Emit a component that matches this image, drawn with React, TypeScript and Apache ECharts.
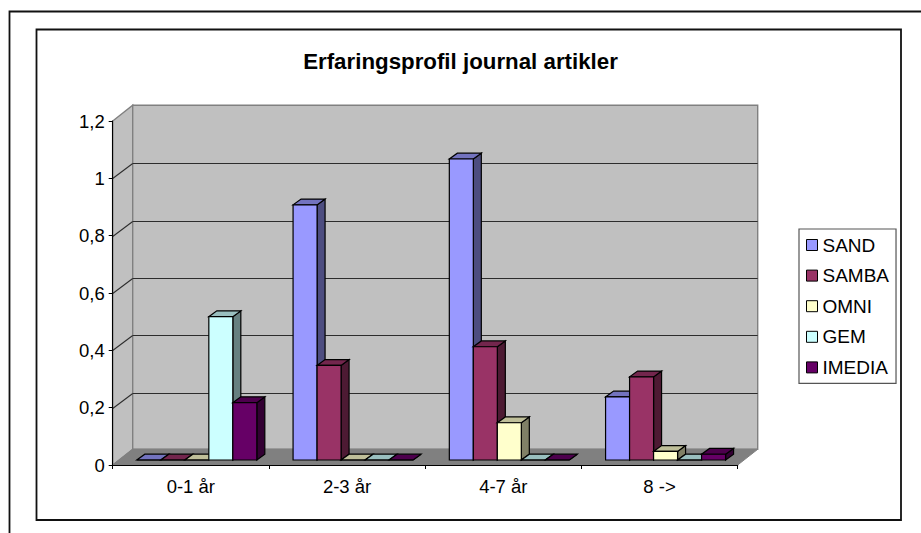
import React, { useEffect, useRef } from "react";
import * as echarts from "echarts";

const categories = ["0-1 år", "2-3 år", "4-7 år", "8 ->"];
const SAND = [0, 0.89, 1.05, 0.22];
const SAMBA = [0, 0.33, 0.395, 0.29];
const OMNI = [0, 0, 0.13, 0.03];
const GEM = [0.5, 0, 0, 0];
const IMEDIA = [0.2, 0, 0, 0.02];
const yTicks = [0, 0.2, 0.4, 0.6, 0.8, 1, 1.2];
const seriesNames = ["SAND", "SAMBA", "OMNI", "GEM", "IMEDIA"];
const seriesValues = [SAND, SAMBA, OMNI, GEM, IMEDIA];
const frontColors = ["#9999FF", "#993366", "#FFFFCC", "#CCFFFF", "#660066"];
const topColors = ["#7373BF", "#73264D", "#BFBF99", "#99BFBF", "#4D004D"];
const sideColors = ["#4D4D80", "#4D1A33", "#808066", "#668080", "#330033"];

const WALL_DX = 20;
const WALL_DY = 15.7;
const BASE_DX = 6;
const BASE_DY = 5;
const BAR_W = 24;
const BAR_DX = 8;
const BAR_DY = 5.8;
const FONT = "'Liberation Sans', Arial, sans-serif";
const EDGE = "#808080";

function wallItem(params: any) {
  const { x, y, width, height } = params.coordSys;
  const b = y + height;
  const r = x + width;
  const s = { stroke: EDGE, lineWidth: 1.4 };
  return {
    type: "group",
    children: [
      { type: "polygon", shape: { points: [[x, b], [x + WALL_DX, b - WALL_DY], [x + WALL_DX, y - WALL_DY], [x, y]] }, style: { fill: "#C0C0C0", ...s } },
      { type: "rect", shape: { x: x + WALL_DX, y: y - WALL_DY, width, height }, style: { fill: "#C0C0C0", ...s } },
      { type: "polygon", shape: { points: [[x, b], [r, b], [r + WALL_DX, b - WALL_DY], [x + WALL_DX, b - WALL_DY]] }, style: { fill: "#808080", stroke: EDGE, lineWidth: 1 } },
    ],
  };
}

function gridItem(params: any, api: any) {
  const v = api.value(1);
  if (v === 0 || v === 1.2) return { type: "group", children: [] };
  const y = Math.round(api.coord([0, v])[1]) + 0.5;
  const { x, width } = params.coordSys;
  const by = Math.round(y - WALL_DY) + 0.5;
  const s = { stroke: "#2c2c2c", lineWidth: 1.1 };
  return {
    type: "group",
    children: [
      { type: "line", shape: { x1: x, y1: y, x2: x + WALL_DX, y2: by }, style: s },
      { type: "line", shape: { x1: x + WALL_DX, y1: by, x2: x + WALL_DX + width, y2: by }, style: s },
    ],
  };
}

function barItem(sIdx: number) {
  return (params: any, api: any) => {
    const cat = api.value(0);
    const val = api.value(1);
    const base = api.coord([cat, 0]);
    const top = api.coord([cat, val]);
    const x0 = base[0] + BASE_DX - (BAR_W * seriesNames.length) / 2 + sIdx * BAR_W;
    const x1 = x0 + BAR_W;
    const yb = base[1] - BASE_DY;
    const yt = top[1] - BASE_DY;
    const s = { stroke: "#000", lineWidth: 1.2 };
    return {
      type: "group",
      children: [
        { type: "polygon", shape: { points: [[x1, yb], [x1 + BAR_DX, yb - BAR_DY], [x1 + BAR_DX, yt - BAR_DY], [x1, yt]] }, style: { fill: sideColors[sIdx], ...s } },
        { type: "polygon", shape: { points: [[x0, yt], [x1, yt], [x1 + BAR_DX, yt - BAR_DY], [x0 + BAR_DX, yt - BAR_DY]] }, style: { fill: topColors[sIdx], ...s } },
        { type: "rect", shape: { x: x0, y: yt, width: BAR_W, height: yb - yt }, style: { fill: frontColors[sIdx], ...s } },
      ],
    };
  };
}

export default function App() {
  const ref = useRef<HTMLDivElement>(null);
  useEffect(() => {
    document.body.style.margin = "0";
    const chart = echarts.init(ref.current!, undefined, { renderer: "svg" });
    chart.setOption({
      animation: false,
      backgroundColor: "#fff",
      title: {
        text: "Erfaringsprofil journal artikler",
        left: "center",
        top: 45,
        textStyle: { fontFamily: FONT, fontSize: 22.3, fontWeight: "bold", color: "#000" },
      },
      legend: {
        orient: "vertical",
        left: 799,
        top: 229,
        data: seriesNames,
        icon: "rect",
        itemWidth: 11,
        itemHeight: 11,
        itemGap: 9.6,
        itemStyle: { borderColor: "#000", borderWidth: 1 },
        padding: [5.5, 7, 5.5, 7],
        borderColor: "#555",
        borderWidth: 1.2,
        backgroundColor: "#fff",
        textStyle: { fontFamily: FONT, fontSize: 19, color: "#000", padding: [0, 0, 0, 0], lineHeight: 21 },
        selectedMode: false,
      },
      grid: { left: 112.7, top: 121, width: 625, height: 344 },
      xAxis: {
        type: "category",
        data: categories,
        z: 5,
        axisLine: { lineStyle: { color: "#000", width: 1.1 } },
        axisTick: { show: true, alignWithLabel: false, length: 4, lineStyle: { color: "#000" } },
        axisLabel: { fontFamily: FONT, fontSize: 18.5, color: "#000", margin: 12 },
      },
      yAxis: {
        type: "value",
        min: 0,
        max: 1.2,
        interval: 0.2,
        z: 5,
        splitLine: { show: false },
        axisLine: { show: true, lineStyle: { color: "#000", width: 1.1 } },
        axisTick: { show: true, length: 4, lineStyle: { color: "#000" } },
        axisLabel: {
          fontFamily: FONT,
          fontSize: 18.5,
          color: "#000",
          margin: 8,
          formatter: (v: number) => String(v).replace(".", ","),
        },
      },
      graphic: [
        { type: "rect", silent: true, z: -1, shape: { x: 9.5, y: 11.5, width: 930, height: 540 }, style: { fill: "none", stroke: "#111", lineWidth: 1.8 } },
        { type: "rect", silent: true, z: -1, shape: { x: 36.5, y: 29.5, width: 864.5, height: 490.5 }, style: { fill: "none", stroke: "#111", lineWidth: 1.8 } },
      ],
      series: [
        { type: "custom", name: "walls", silent: true, clip: false, z: 1, renderItem: wallItem, data: [[0, 0]], encode: { x: 0, y: 1 } },
        { type: "custom", name: "grid", silent: true, clip: false, z: 1, renderItem: gridItem, data: yTicks.map((t) => [0, t]), encode: { x: 0, y: 1 } },
        ...seriesNames.map((name, i) => ({
          type: "custom",
          name,
          silent: true,
          clip: false,
          z: 3,
          itemStyle: { color: frontColors[i] },
          renderItem: barItem(i),
          data: seriesValues[i].map((v, c) => [c, v]),
          encode: { x: 0, y: 1 },
        })),
      ],
    });
    return () => chart.dispose();
  }, []);
  return <div ref={ref} style={{ width: 921, height: 533 }} />;
}
